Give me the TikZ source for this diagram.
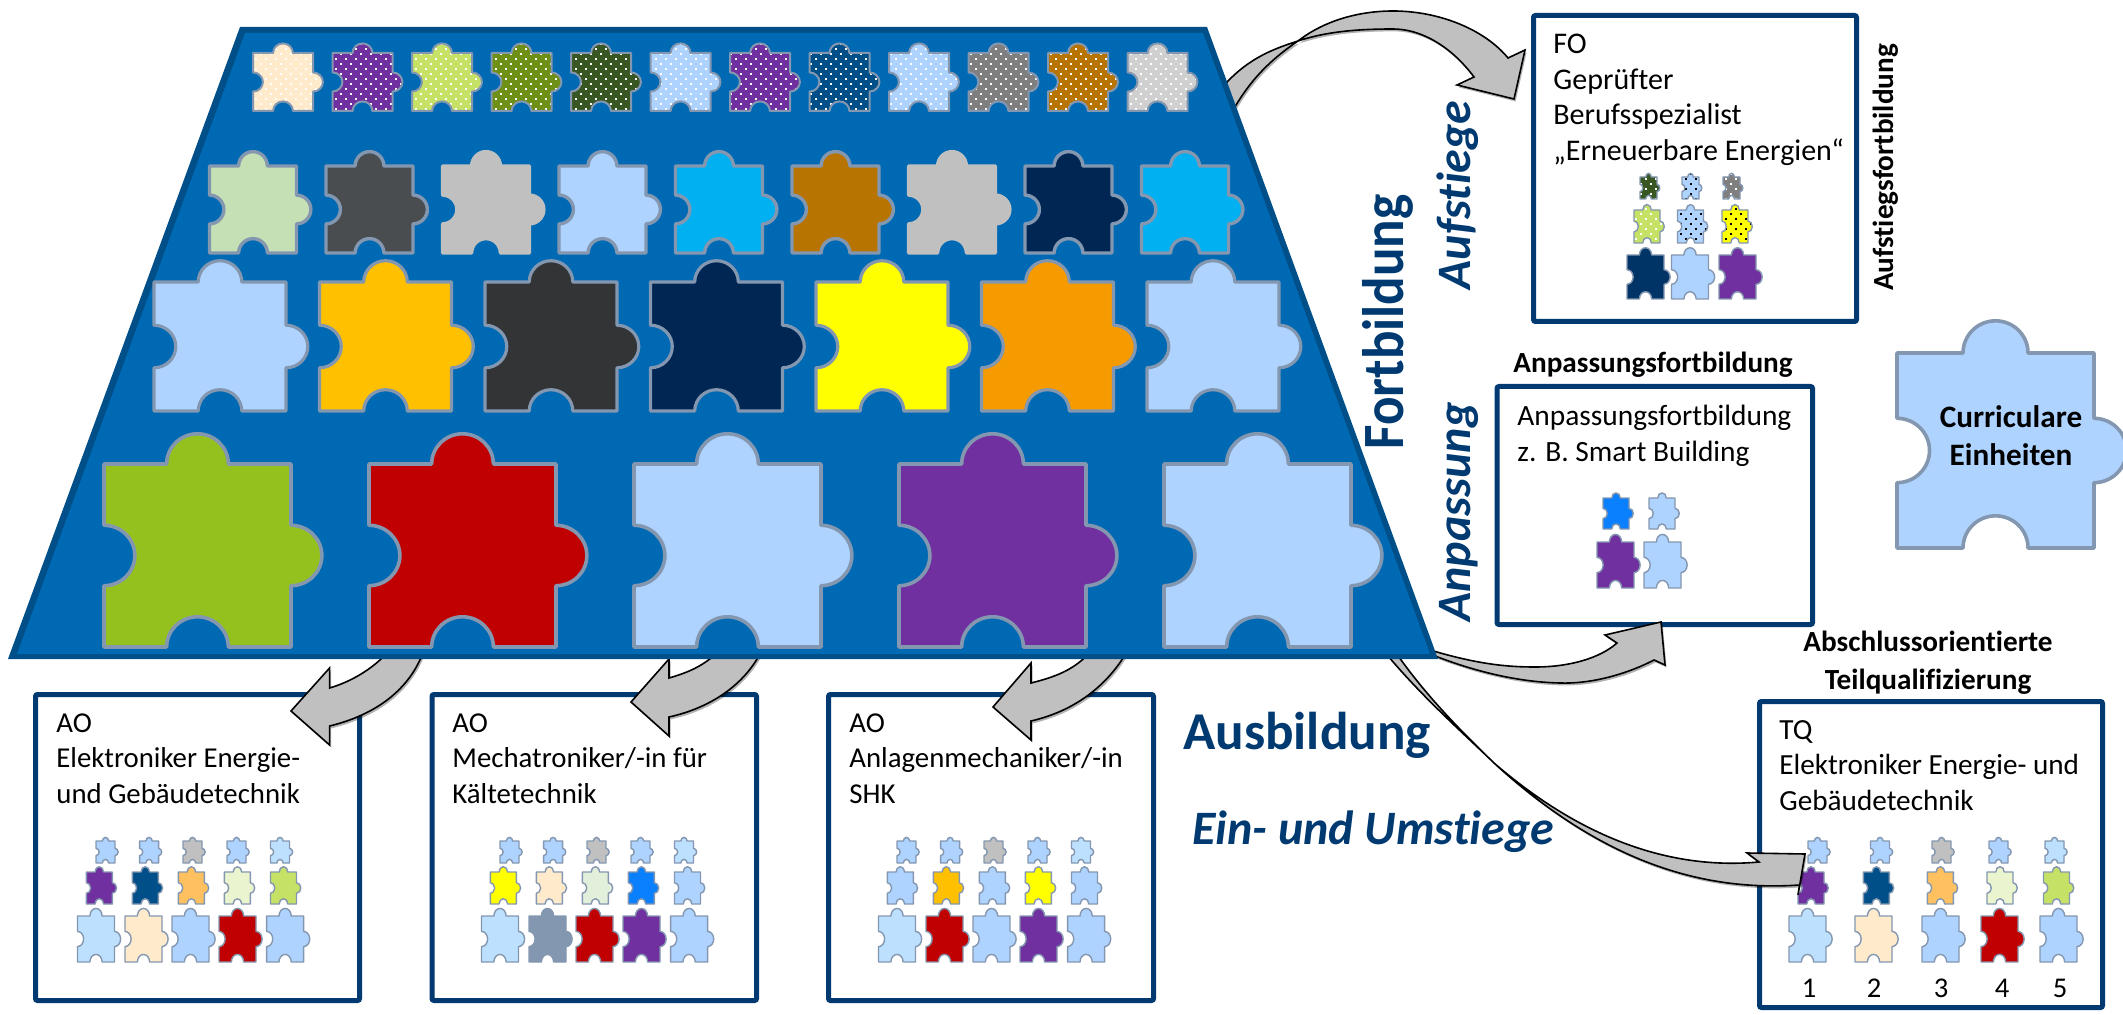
\documentclass[tikz,border=0pt]{standalone}
\usepackage{fontspec}
\usepackage{graphicx}
\setmainfont{Carlito}[Ligatures={TeX,NoCommon,NoRare,NoContextual}]
\usetikzlibrary{patterns,shadows}
\definecolor{lb}{HTML}{AFD3FF}
\definecolor{vlb}{HTML}{BDE0FF}
\definecolor{cream}{HTML}{FFEBCC}
\definecolor{purp}{HTML}{7030A0}
\definecolor{lime}{HTML}{C5E267}
\definecolor{olive}{HTML}{6E9016}
\definecolor{dgreen}{HTML}{385723}
\definecolor{dblue}{HTML}{004F88}
\definecolor{midgray}{HTML}{7F7F7F}
\definecolor{brown}{HTML}{B87400}
\definecolor{lgray}{HTML}{D0D0D0}
\definecolor{sage}{HTML}{C5E0B4}
\definecolor{slate}{HTML}{4A4D50}
\definecolor{pgray}{HTML}{C0C0C0}
\definecolor{sky}{HTML}{00B0F0}
\definecolor{navy}{HTML}{002654}
\definecolor{amber}{HTML}{FFC000}
\definecolor{coal}{HTML}{333436}
\definecolor{yel}{HTML}{FFFF00}
\definecolor{orng}{HTML}{F59B00}
\definecolor{green2}{HTML}{95C11F}
\definecolor{red2}{HTML}{C00000}
\definecolor{edge}{HTML}{8497B0}
\definecolor{tfill}{HTML}{0069B3}
\definecolor{tedge}{HTML}{004F88}
\definecolor{head}{HTML}{003A70}
\definecolor{apri}{HTML}{FFC05F}
\definecolor{pale}{HTML}{EAF5CF}
\definecolor{mint}{HTML}{E2EFDA}
\definecolor{bright}{HTML}{0A80FF}
\definecolor{steel}{HTML}{8497B0}
\definecolor{nv2}{HTML}{003366}
\pgfdeclarepatternformonly{sqdots}{\pgfqpoint{-1pt}{-1pt}}{\pgfqpoint{6pt}{6pt}}{\pgfqpoint{5pt}{5pt}}{%
  \pgfpathrectangle{\pgfqpoint{0pt}{0pt}}{\pgfqpoint{.9pt}{.9pt}}%
  \pgfpathrectangle{\pgfqpoint{2.5pt}{2.5pt}}{\pgfqpoint{.9pt}{.9pt}}%
  \pgfusepath{fill}}
\newcommand\puz[6]{%
  \draw[shift={(#1,#2)},x=#3*0.5pt,y=-#4*0.5pt,draw=edge,line join=round,preaction={fill=#5},#6]
  (0,0) -- (.335,0) .. controls (.335,-.091) and (.409,-.165) .. (.5,-.165)
  .. controls (.591,-.165) and (.665,-.091) .. (.665,0) -- (1,0) -- (1,.335)
  .. controls (1.091,.335) and (1.165,.409) .. (1.165,.5)
  .. controls (1.165,.591) and (1.091,.665) .. (1,.665) -- (1,1) -- (.665,1)
  .. controls (.665,.909) and (.591,.835) .. (.5,.835)
  .. controls (.409,.835) and (.335,.909) .. (.335,1) -- (0,1) -- (0,.665)
  .. controls (.091,.665) and (.165,.591) .. (.165,.5)
  .. controls (.165,.409) and (.091,.335) .. (0,.335) -- cycle;}
\newcommand\minirows[4]{% x offset, colours a, b, c
  \foreach \c/\xx in {#2}{\puz{\xx+#1}{841}{19}{22}{\c}{mini}}
  \foreach \c/\xx in {#3}{\puz{\xx+#1}{872}{26}{32}{\c}{mini}}
  \foreach \c/\xx in {#4}{\puz{\xx+#1}{916}{37}{46}{\c}{mini}}}
\tikzset{
  infobox/.style={draw=head,line width=2.5pt,fill=white,rounded corners=1pt,inner sep=0pt},
  bodytext/.style={anchor=north west,inner sep=0pt,align=left,font=\fontsize{14.4}{17.75}\selectfont},
  sidelabel/.style={inner sep=0pt,align=center,font=\fontsize{14.6}{19}\selectfont\bfseries},
  headlabel/.style={inner sep=0pt,text=head,font=\fontsize{26.6}{30}\selectfont\bfseries},
  sublabel/.style={inner sep=0pt,text=head,font=\fontsize{24}{26}\selectfont\bfseries\itshape},
  numlabel/.style={inner sep=0pt,font=\fontsize{14.3}{16}\selectfont},
  mini/.style={line width=.7pt},
  row1/.style={line width=1pt},
  row2/.style={line width=1.7pt},
  row3/.style={line width=1.6pt},
  row4/.style={line width=1.8pt},
  whitedots/.style={preaction={pattern=sqdots,pattern color=white}},
  blackdots/.style={preaction={pattern=sqdots,pattern color=black}},
  blockarrow/.style={draw=black,line width=.8pt,fill=pgray,line join=miter,
    drop shadow={shadow xshift=.8pt,shadow yshift=-1.2pt,opacity=.3,fill=black}},
}
\newcommand\fs{\rule{0pt}{9.5pt}}
\begin{document}
\begin{tikzpicture}[x=0.5pt,y=-0.5pt]
\useasboundingbox (0,0) rectangle (2123,1015);
% boxes
\node[infobox,minimum width=161.5pt,minimum height=153pt] (boxFO) at (1695,168.5) {};
\node[infobox,minimum width=157.75pt,minimum height=119pt] (boxAN) at (1654.75,505.5) {};
\node[infobox,minimum width=171.5pt,minimum height=153pt] (boxTQ) at (1931,854.5) {};
\node[infobox,minimum width=162pt,minimum height=153pt] (boxA) at (197.5,847.5) {};
\node[infobox,minimum width=162.25pt,minimum height=153pt] (boxB) at (594.25,847.5) {};
\node[infobox,minimum width=162.5pt,minimum height=153pt] (boxC) at (991,847.5) {};
% box text
\node[bodytext,font=\fontsize{15}{17.75}\selectfont] (tFO) at (1553,34) {\fs FO\\Geprüfter\\Berufsspezialist\\„Erneuerbare Energien“};
\node[bodytext,font=\fontsize{14.7}{17.75}\selectfont] (tAN) at (1517,405) {\fs Anpassungsfortbildung\\z. B. Smart Building};
\node[bodytext,font=\fontsize{14.6}{17.75}\selectfont] (tTQ) at (1779,720) {\fs TQ\\Elektroniker Energie- und\\Gebäudetechnik};
\node[bodytext] (tA) at (56,713) {\fs AO\\Elektroniker Energie-\\und Gebäudetechnik};
\node[bodytext] (tB) at (452,713) {\fs AO\\Mechatroniker/-in für\\Kältetechnik};
\node[bodytext] (tC) at (849,713) {\fs AO\\Anlagenmechaniker/-in\\SHK};
% side labels
\node[sidelabel,rotate=90] (lAufF) at (1886,167.5) {Aufstiegsfortbildung};
\node[sidelabel] (lAnF) at (1653,365) {Anpassungsfortbildung};
\node[sidelabel] (lTQ) at (1928,663) {Abschlussorientierte\\Teilqualifizierung};
\node[headlabel,rotate=90] (lFort) at (1388,322) {\scalebox{1}[1.1]{Fortbildung}};
\node[headlabel] (lAus) at (1307,735) {Ausbildung};
\node[sublabel,rotate=90] (lAuf) at (1458,195) {Aufstiege};
\node[sublabel,rotate=90] (lAnp) at (1459,512) {Anpassung};
\node[sublabel] (lEin) at (1373,832) {Ein- und Umstiege};
% minis: AO boxes
\minirows{0}{lb/96,lb/139.6,pgray/183,lb/227,vlb/270.5}
 {purp/86.3,dblue/132.3,apri/178.4,pale/224.4,lime/270.5}
 {vlb/77.5,cream/125,lb/172,red2/219,lb/266.6}
\minirows{404}{lb/96,lb/139.6,pgray/183,lb/227,vlb/270.5}
 {yel/86.3,cream/132.3,mint/178.4,bright/224.4,lb/270.5}
 {vlb/77.5,steel/125,red2/172,purp/219,lb/266.6}
\minirows{801}{lb/96,lb/139.6,pgray/183,lb/227,vlb/270.5}
 {lb/86.3,amber/132.3,lb/178.4,yel/224.4,lb/270.5}
 {vlb/77.5,red2/125,lb/172,purp/219,lb/266.6}
% minis: TQ box
\minirows{0}{lb/1808,lb/1870.5,pgray/1932,lb/1989,vlb/2045}
 {purp/1798,dblue/1863.4,apri/1927.4,pale/1987,lime/2043.5}
 {vlb/1789,cream/1855,lb/1922,red2/1981,lb/2040}
\node[numlabel] (n1) at (1809,988) {1};
\node[numlabel] (n2) at (1874,988) {2};
\node[numlabel] (n3) at (1941,988) {3};
\node[numlabel] (n4) at (2002,988) {4};
\node[numlabel] (n5) at (2060,988) {5};
% minis: FO box
\puz{1640}{177}{17}{22}{dgreen}{mini,whitedots}
\puz{1682}{177}{17}{22}{lb}{mini,blackdots}
\puz{1723}{177}{17}{22}{midgray}{mini,whitedots}
\puz{1634}{210}{26}{33}{lime}{mini,whitedots}
\puz{1677.5}{210}{26}{33}{lb}{mini,blackdots}
\puz{1722}{210}{26}{33}{yel}{mini,blackdots}
\puz{1627}{255}{37}{44}{nv2}{mini}
\puz{1671.5}{255}{37}{44}{lb}{mini}
\puz{1719}{255}{37}{44}{purp}{mini}
% minis: adaptation box
\puz{1603}{498}{26}{31}{bright}{mini}
\puz{1649}{498}{26}{31}{lb}{mini}
\puz{1597}{542}{37}{46}{purp}{mini}
\puz{1644}{542}{37}{46}{lb}{mini}
% block arrows
\coordinate (tailFO) at (1220,90);
\coordinate (tipFO) at (1514,99);
\draw[blockarrow] (tailFO) .. controls (1245,60) and (1270,50) .. (1298,41)
  .. controls (1325,20) and (1360,11) .. (1393,11)
  .. controls (1440,11) and (1485,30) .. (1508,58) -- (1525,50) -- (tipFO) -- (1457,85) -- (1474,77)
  .. controls (1450,45) and (1420,29) .. (1393,29)
  .. controls (1355,29) and (1325,32) .. (1298,41)
  .. controls (1270,60) and (1250,80) .. (1232,112) -- cycle;
\coordinate (tailA) at (424,650);
\coordinate (tipA) at (291,711);
\draw[blockarrow] (390,650) .. controls (372,670) and (350,682) .. (329.6,688) -- (329.6,668) -- (tipA)
  -- (329.6,745) -- (329.6,726) .. controls (375,715) and (410,690) .. (tailA) -- cycle;
\coordinate (tailB) at (762,650);
\coordinate (tipB) at (631,702);
\draw[blockarrow] (720,650) .. controls (705,665) and (690,672) .. (669,678) -- (669,659) -- (tipB)
  -- (669,736) -- (669,717) .. controls (710,708) and (745,685) .. (tailB) -- cycle;
\coordinate (tailC) at (1128,650);
\coordinate (tipC) at (993,707);
\draw[blockarrow] (1092,650) .. controls (1075,670) and (1055,677) .. (1031,683) -- (1031,663) -- (tipC)
  -- (1031,740) -- (1031,721) .. controls (1070,712) and (1105,690) .. (tailC) -- cycle;
\coordinate (tailAN) at (1430,650);
\coordinate (tipAN) at (1661,622);
\draw[blockarrow] (tailAN) .. controls (1480,665) and (1510,667) .. (1535,667)
  .. controls (1570,667) and (1600,658) .. (1617,643) -- (1605,635) -- (tipAN) -- (1665,665) -- (1654,660)
  .. controls (1625,675) and (1590,684) .. (1560,683)
  .. controls (1515,682) and (1470,670) .. (1430,654) -- cycle;
\coordinate (tailTQ) at (1383,650);
\coordinate (tipTQ) at (1805,854);
\draw[blockarrow] (1394,650) .. controls (1425,695) and (1460,730) .. (1494,763)
  .. controls (1560,820) and (1650,872) .. (1759,862) -- (1747,853) -- (tipTQ) -- (1798,895) -- (1799.5,885)
  .. controls (1700,892) and (1600,860) .. (1494,763)
  .. controls (1460,730) and (1420,695) .. (tailTQ) -- cycle;
% trapezoid
\draw[fill=tedge,draw=none] (240,27) -- (1207,27) -- (1438,659) -- (8,659) -- cycle;
\fill[tfill] (245,33) -- (1203,33) -- (1430,654) -- (17,654) -- cycle;
% row 1
\foreach \c [count=\i from 0] in {cream,purp,lime,olive,dgreen,lb,purp,dblue,lb,midgray,brown,lgray}{
  \pgfmathsetmacro\xx{253+\i*79.5}
  \puz{\xx}{53}{60}{58}{\c}{row1,whitedots}}
% row 2
\foreach \c [count=\i from 0] in {sage,slate,pgray,lb,sky,brown,pgray,navy,sky}{
  \pgfmathsetmacro\xx{209.5+\i*116.5}
  \ifnum\i=2 \puz{\xx}{166}{87}{87}{\c}{row2,draw=pgray}
  \else\ifnum\i=6 \puz{\xx}{166}{87}{87}{\c}{row2,draw=pgray}
  \else \puz{\xx}{166}{87}{87}{\c}{row2}\fi\fi}
% row 3
\foreach \c [count=\i from 0] in {lb,amber,coal,navy,yel,orng,lb}{
  \pgfmathsetmacro\xx{154+\i*165.5}
  \puz{\xx}{282}{132}{129}{\c}{row3}}
% row 4
\foreach \c [count=\i from 0] in {green2,red2,lb,purp,lb}{
  \pgfmathsetmacro\xx{104+\i*265}
  \puz{\xx}{464}{187}{183}{\c}{row4}}
% legend piece
\puz{1897}{353}{197}{195}{lb}{row4}
\node[sidelabel,font=\fontsize{15.6}{19}\selectfont\bfseries] (lCur) at (2011,436) {Curriculare\\Einheiten};
\end{tikzpicture}
\end{document}
